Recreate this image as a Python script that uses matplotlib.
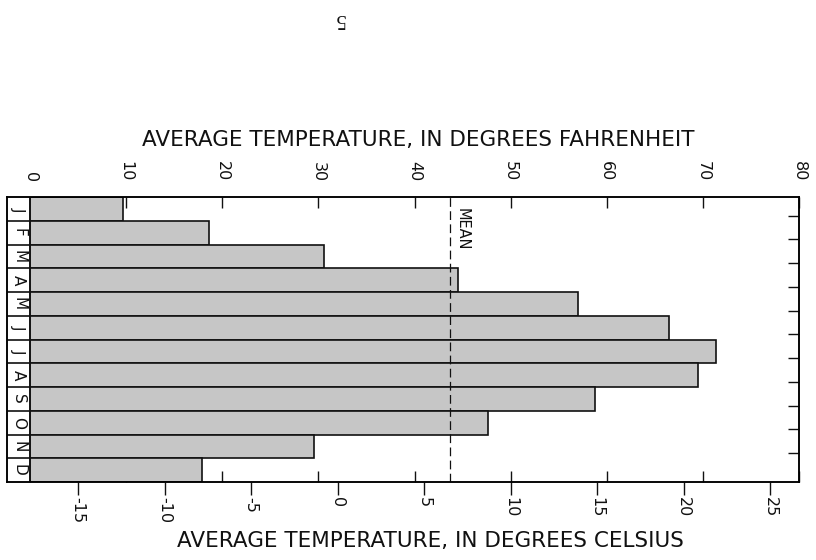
import numpy as np
import matplotlib.pyplot as plt

plt.rcParams.update({
    "font.family": "DejaVu Sans",
    "axes.unicode_minus": False,
    "axes.linewidth": 1.1,
})

# data (degrees Fahrenheit)
months = ["J", "F", "M", "A", "M", "J", "J", "A", "S", "O", "N", "D"]
temp_f = [9.7, 18.6, 30.6, 44.5, 57.0, 66.5, 71.4, 69.5, 58.8, 47.6, 29.5, 17.9]
mean_f = 43.7

f_ticks = [0, 10, 20, 30, 40, 50, 60, 70, 80]
c_ticks = [-15, -10, -5, 0, 5, 10, 15, 20, 25]

BAR_C = "#c6c6c6"
INK = "#111111"

fig = plt.figure(figsize=(8.16, 5.6), dpi=100)
ax = fig.add_axes([7 / 816, 1 - 482 / 560, 792 / 816, 285 / 560])

y = np.arange(len(months))
ax.barh(y, temp_f, height=1.0, color=BAR_C, edgecolor=INK, linewidth=1.2, zorder=2)

ax.set_xlim(-2.4, 80)
ax.set_ylim(len(months) - 0.5, -0.5)

# month label column
ax.axvline(0, color=INK, lw=1.2, zorder=3)
ax.hlines(y[:-1] + 0.5, -2.4, 0, color=INK, lw=1.2, zorder=3)
for yi, m in zip(y, months):
    ax.text(-1.2, yi, m, rotation=-90, ha="center", va="center",
            fontsize=11, color=INK)

# mean line
ax.axvline(mean_f, color=INK, lw=0.9, ls=(0, (7, 3.5)), zorder=4)
ax.annotate("MEAN", xy=(mean_f, 0.85), xytext=(9, 0), textcoords="offset points",
            rotation=-90, ha="center", va="center", fontsize=10.5, color=INK)

# Fahrenheit axis on top, inward ticks on top and bottom
ax.set_xticks(f_ticks)
ax.set_xticklabels([str(t) for t in f_ticks])
ax.tick_params(axis="x", top=True, bottom=True, labeltop=True, labelbottom=False,
               direction="in", length=8, width=1, pad=11, labelsize=11.5,
               labelrotation=-90, colors=INK)

# right-side inward ticks
ax.set_yticks([])
ax2 = ax.twinx()
ax2.set_ylim(ax.get_ylim())
ax2.set_yticks(y[:-1] + 0.28)
ax2.set_yticklabels([])
ax2.tick_params(axis="y", direction="in", length=8, width=1, colors=INK)

# Celsius axis on bottom
sec = ax.secondary_xaxis("bottom", functions=(lambda f: (f - 32) * 5 / 9,
                                               lambda c: c * 9 / 5 + 32))
sec.set_xticks(c_ticks)
sec.set_xticklabels([str(t) for t in c_ticks])
sec.tick_params(direction="out", length=9, width=1, pad=2, labelsize=11.5,
                labelrotation=-90, colors=INK)
sec.spines["bottom"].set_visible(False)

fig.text(418 / 816, 1 - 140 / 560, "AVERAGE TEMPERATURE, IN DEGREES FAHRENHEIT",
         ha="center", va="center", fontsize=15.5, color=INK)
fig.text(430 / 816, 1 - 541 / 560, "AVERAGE TEMPERATURE, IN DEGREES CELSIUS",
         ha="center", va="center", fontsize=15.5, color=INK)
fig.text(339 / 816, 1 - 18 / 560, "5", rotation=180, ha="center", va="center",
         fontsize=15, family="Liberation Serif", color=INK)

fig.savefig("out.png", dpi=100, facecolor="white")
